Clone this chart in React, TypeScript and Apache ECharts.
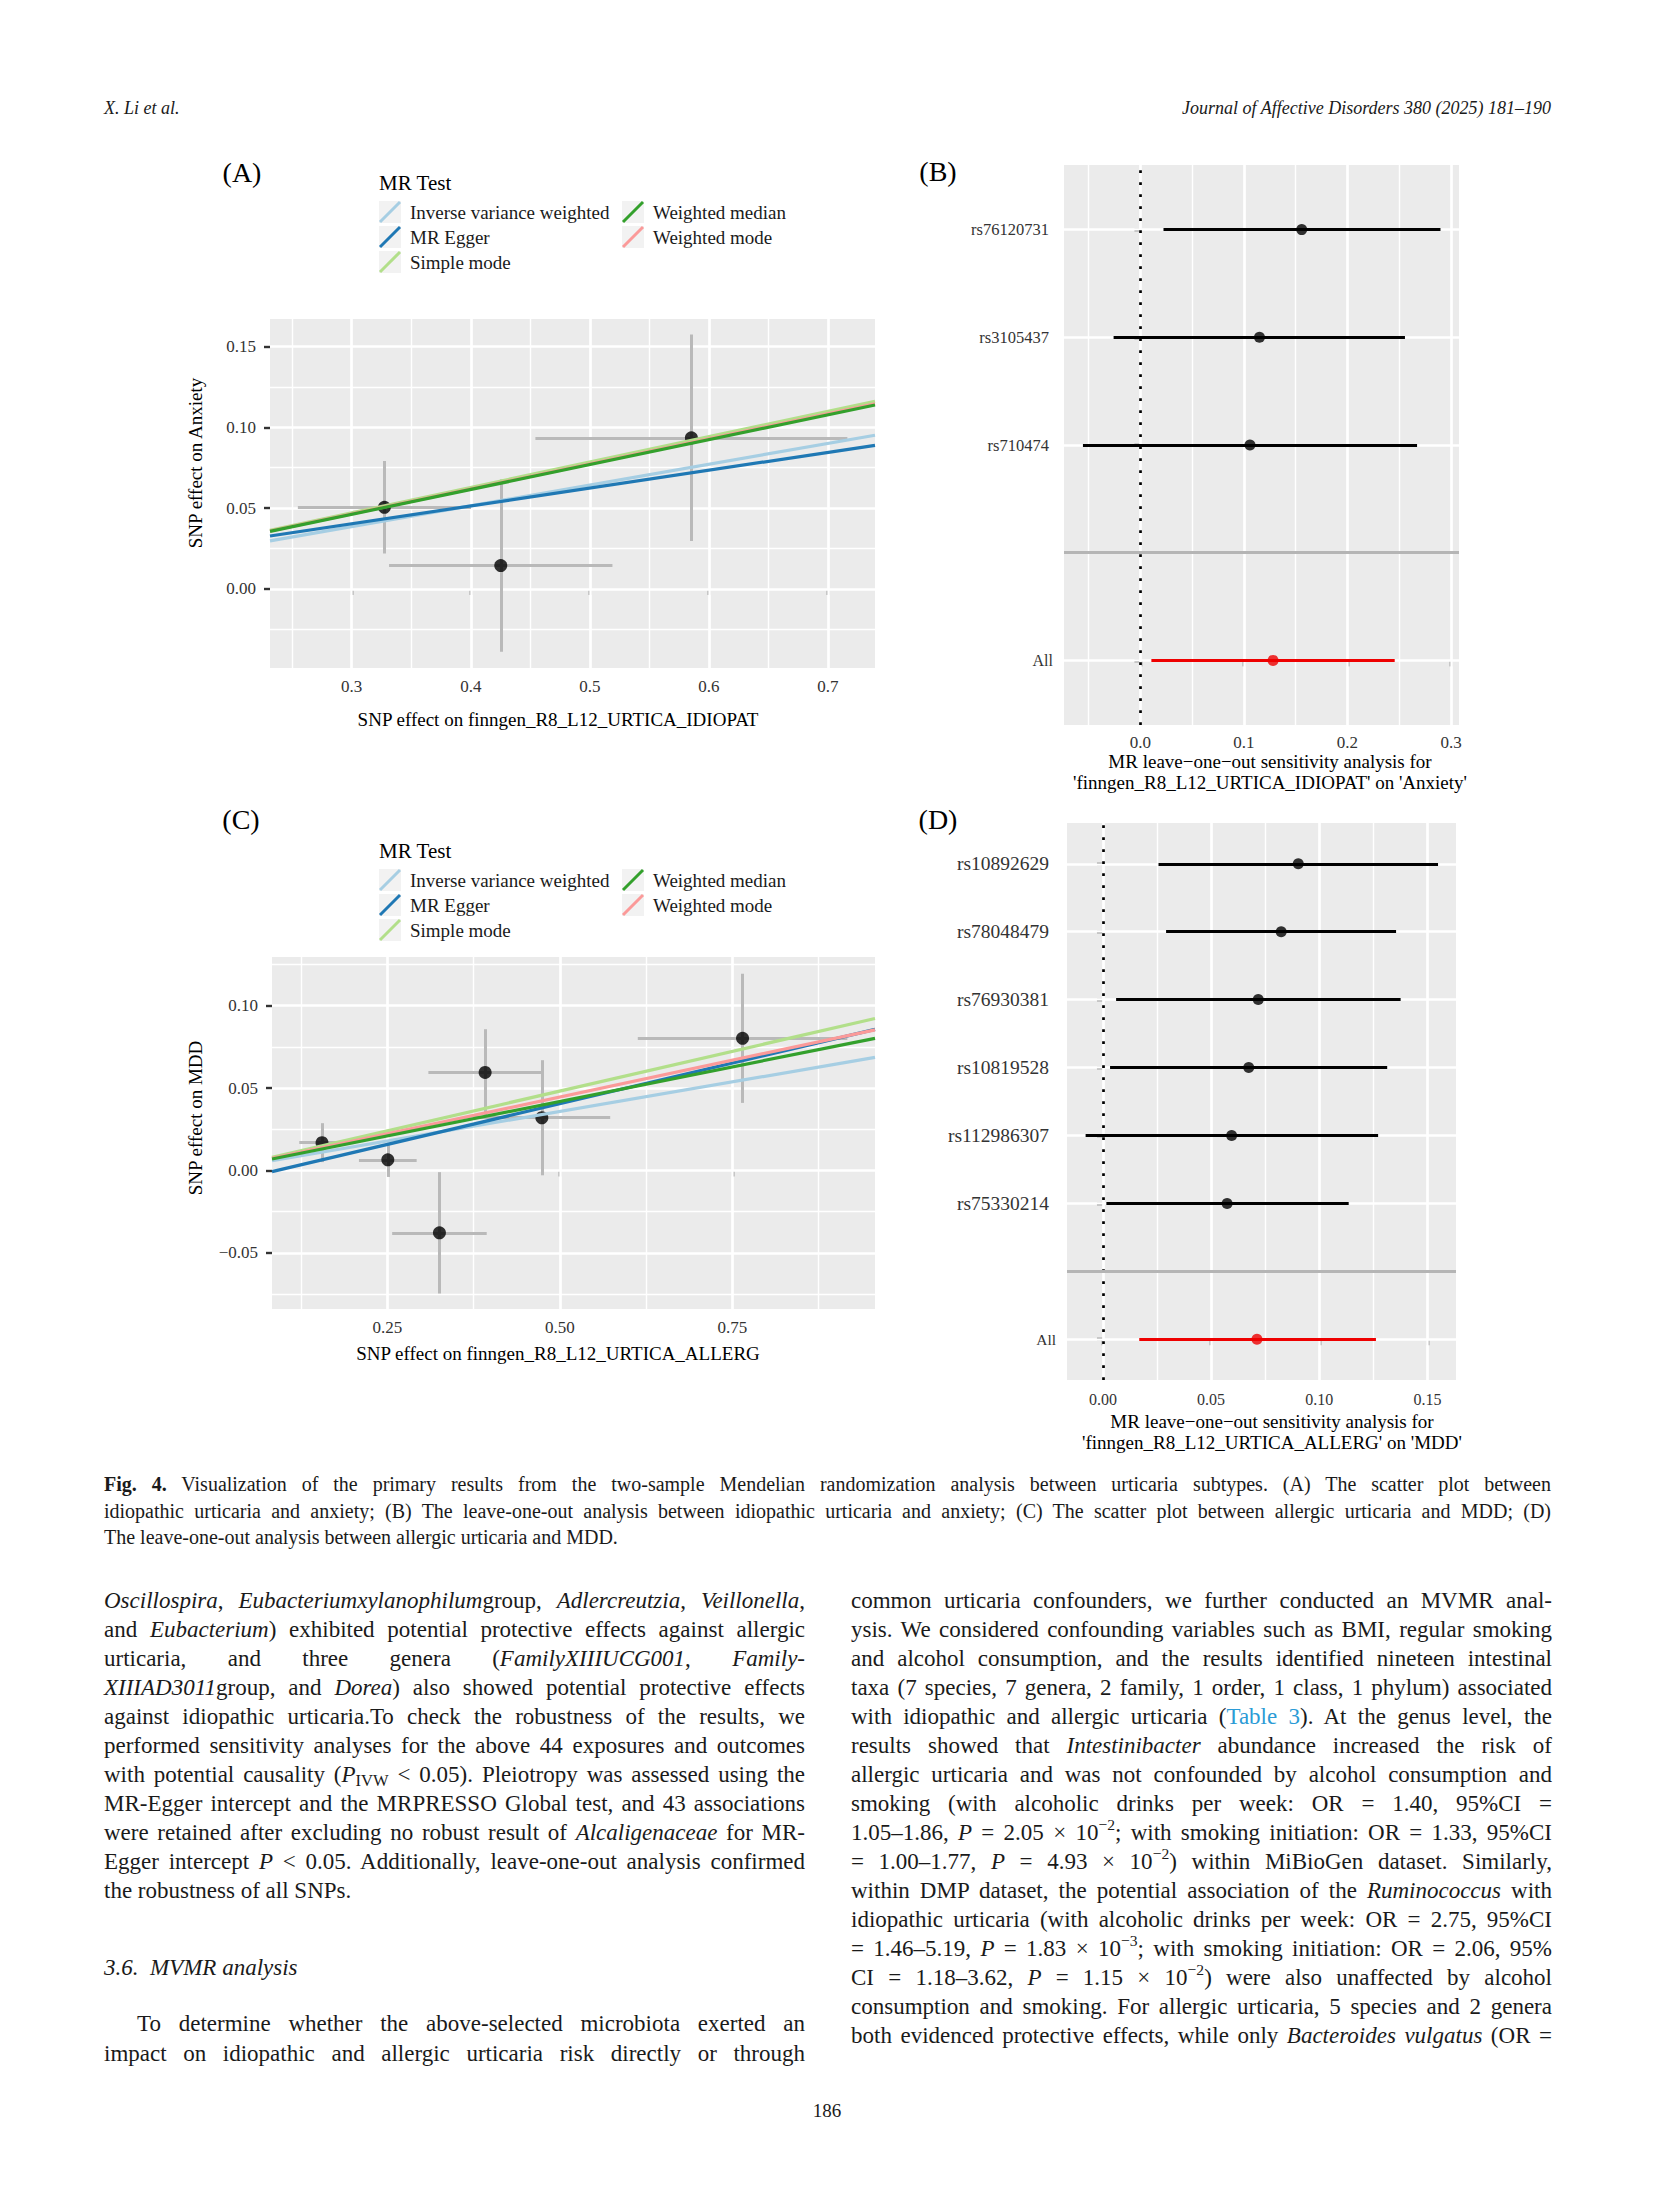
import React, { useEffect, useRef } from "react";
import * as echarts from "echarts";

const SERIF = "'Liberation Serif', 'Times New Roman', Times, serif";
const AXIS_TXT = "#333333";
const GRID_BG = "#EBEBEB";
const ERR_GREY = "#b9b9b9";

// MR methods (legend order)
const methodNames = ["Inverse variance weighted", "MR Egger", "Simple mode", "Weighted median", "Weighted mode"];
const methodColors = ["#a6cee3", "#1f78b4", "#b2df8a", "#33a02c", "#fb9a99"];
const drawOrder = [0, 1, 2, 4, 3];

// ---------- Panel A: scatter, URTICA_IDIOPAT -> Anxiety ----------
const aBetaExp = [0.3275, 0.4252, 0.5853];
const aSeExp = [0.0727, 0.0938, 0.131];
const aBetaOut = [0.0505, 0.0145, 0.0935];
const aSeOut = [0.0286, 0.0534, 0.0639];
const aSlopes = [0.1286, 0.1104, 0.157, 0.1539, 0.1548];
const aIntercepts = [0, 0.0072, 0, 0, 0];
const aRangeX = [0.2314, 0.7395];
const aRangeY = [-0.0489, 0.167];
const aTickX = [0.3, 0.4, 0.5, 0.6, 0.7];
const aTickY = [0, 0.05, 0.1, 0.15];
const aMinorX = [0.25, 0.35, 0.45, 0.55, 0.65];
const aMinorY = [-0.025, 0.025, 0.075, 0.125];

// ---------- Panel C: scatter, URTICA_ALLERG -> MDD ----------
const cBetaExp = [0.1554, 0.2507, 0.3255, 0.3917, 0.4739, 0.7647];
const cSeExp = [0.033, 0.0418, 0.0685, 0.0822, 0.099, 0.1518];
const cBetaOut = [0.0169, 0.0065, -0.0378, 0.0595, 0.032, 0.0802];
const cSeOut = [0.0118, 0.0104, 0.0368, 0.0262, 0.0349, 0.0392];
const cSlopes = [0.0717, 0.0988, 0.0964, 0.0838, 0.0892];
const cIntercepts = [0, -0.0089, 0, 0, 0];
const cRangeX = [0.0829, 0.9566];
const cRangeY = [-0.084, 0.1295];
const cTickX = [0.25, 0.5, 0.75];
const cTickY = [-0.05, 0, 0.05, 0.1];
const cMinorX = [0.125, 0.375, 0.625, 0.875];
const cMinorY = [-0.075, -0.025, 0.025, 0.075, 0.125];

// ---------- Panel B: leave-one-out, IDIOPAT -> Anxiety ----------
const bSnps = ["All", "", "rs710474", "rs3105437", "rs76120731"];
const bBeta = [0.1281, null, 0.1058, 0.115, 0.1558];
const bLow = [0.0106, null, -0.0555, -0.0259, 0.0223];
const bHigh = [0.2456, null, 0.2672, 0.2555, 0.2898];
const bRangeX = [-0.0738, 0.3077];
const bTickX = [0, 0.1, 0.2, 0.3];
const bMinorX = [-0.05, 0.05, 0.15, 0.25];

// ---------- Panel D: leave-one-out, ALLERG -> MDD ----------
const dSnps = ["All", "", "rs75330214", "rs112986307", "rs10819528", "rs76930381", "rs78048479", "rs10892629"];
const dBeta = [0.0712, null, 0.0574, 0.0595, 0.0674, 0.0718, 0.0824, 0.0903];
const dLow = [0.0168, null, 0.0016, -0.008, 0.0033, 0.0061, 0.0292, 0.0257];
const dHigh = [0.1262, null, 0.1136, 0.1272, 0.1314, 0.1376, 0.1355, 0.1549];
const dRangeX = [-0.0166, 0.1632];
const dTickX = [0, 0.05, 0.1, 0.15];
const dMinorX = [0.025, 0.075, 0.125];

const fmtDec = (dec: number) => (v: number) => {
  const s = Math.abs(v).toFixed(dec);
  return (v < -1e-9 ? "\u2212" : "") + s;
};

function whiteGrid(gi: number, xr: number[], yr: number[], xMaj: number[], xMin: number[], yMaj: number[], yMin: number[]) {
  const data: any[] = [];
  const seg = (coords: number[][], w: number) => ({ coords, lineStyle: { width: w, color: "#ffffff", opacity: 1 } });
  xMin.forEach((v) => data.push(seg([[v, yr[0]], [v, yr[1]]], 1.4)));
  yMin.forEach((v) => data.push(seg([[xr[0], v], [xr[1], v]], 1.4)));
  xMaj.forEach((v) => data.push(seg([[v, yr[0]], [v, yr[1]]], 2.7)));
  yMaj.forEach((v) => data.push(seg([[xr[0], v], [xr[1], v]], 2.7)));
  return {
    type: "lines",
    coordinateSystem: "cartesian2d",
    xAxisIndex: gi,
    yAxisIndex: gi,
    silent: true,
    z: 1,
    lineStyle: { color: "#ffffff", opacity: 1, curveness: 0 },
    data,
  };
}

function xAxisCfg(gi: number, xr: number[], ticks: number[], dec: number, fontSize: number, margin: number) {
  return {
    gridIndex: gi,
    type: "value",
    min: xr[0],
    max: xr[1],
    axisLine: { show: false },
    splitLine: { show: false },
    axisTick: { show: true, customValues: ticks, length: 6, lineStyle: { color: "#333333", width: 2.4 } },
    axisLabel: { show: true, customValues: ticks, formatter: fmtDec(dec), margin, fontFamily: SERIF, fontSize, color: AXIS_TXT },
  };
}

function scatterPanel(
  gi: number,
  xr: number[],
  yr: number[],
  bx: number[],
  sx: number[],
  by: number[],
  sy: number[],
  slopes: number[],
  ints: number[],
  xMaj: number[],
  xMin: number[],
  yMaj: number[],
  yMin: number[]
) {
  const series: any[] = [];
  series.push(whiteGrid(gi, xr, yr, xMaj, xMin, yMaj, yMin));
  const err: any[] = [];
  bx.forEach((x, i) => {
    err.push({ coords: [[x - sx[i], by[i]], [x + sx[i], by[i]]] });
    err.push({ coords: [[x, by[i] - sy[i]], [x, by[i] + sy[i]]] });
  });
  series.push({
    type: "lines",
    coordinateSystem: "cartesian2d",
    xAxisIndex: gi,
    yAxisIndex: gi,
    silent: true,
    z: 2,
    lineStyle: { color: ERR_GREY, width: 3, opacity: 1, curveness: 0 },
    data: err,
  });
  series.push({
    type: "scatter",
    xAxisIndex: gi,
    yAxisIndex: gi,
    z: 3,
    symbol: "circle",
    symbolSize: 13,
    itemStyle: { color: "#000000" },
    data: bx.map((x, i) => [x, by[i]]),
  });
  drawOrder.forEach((m) => {
    const b = slopes[m];
    series.push({
      type: "line",
      name: methodNames[m],
      xAxisIndex: gi,
      yAxisIndex: gi,
      z: 4,
      showSymbol: false,
      symbol: "none",
      lineStyle: { color: methodColors[m], width: 3.2 },
      data: [
        [xr[0], ints[m] + b * xr[0]],
        [xr[1], ints[m] + b * xr[1]],
      ],
    });
  });
  return series;
}

function forestPanel(gi: number, xr: number[], snps: string[], beta: (number | null)[], lo: (number | null)[], hi: (number | null)[], xMaj: number[], xMin: number[]) {
  const yr = [-0.6, snps.length - 1 + 0.6];
  const rows = snps.map((_, i) => i);
  const series: any[] = [];
  series.push(whiteGrid(gi, xr, yr, xMaj, xMin, rows, []));
  series.push({
    type: "lines",
    coordinateSystem: "cartesian2d",
    xAxisIndex: gi,
    yAxisIndex: gi,
    silent: true,
    z: 2,
    lineStyle: { color: "#000000", width: 2.7, opacity: 1, type: [2.7, 9.3], cap: "butt" },
    data: [{ coords: [[0, yr[0]], [0, yr[1]]] }],
  });
  const bars: any[] = [];
  const pts: any[] = [];
  snps.forEach((s, i) => {
    if (beta[i] === null) return;
    const col = s === "All" ? "#ee0000" : "#000000";
    bars.push({ coords: [[lo[i], i], [hi[i], i]], lineStyle: { color: col, width: 2.8, opacity: 1 } });
    pts.push({ value: [beta[i], i], itemStyle: { color: col } });
  });
  series.push({
    type: "lines",
    coordinateSystem: "cartesian2d",
    xAxisIndex: gi,
    yAxisIndex: gi,
    silent: true,
    z: 3,
    lineStyle: { width: 2.8, opacity: 1, curveness: 0 },
    data: bars,
  });
  series.push({
    type: "scatter",
    xAxisIndex: gi,
    yAxisIndex: gi,
    z: 4,
    symbolSize: 11,
    data: pts,
  });
  const gap = snps.indexOf("");
  series.push({
    type: "lines",
    coordinateSystem: "cartesian2d",
    xAxisIndex: gi,
    yAxisIndex: gi,
    silent: true,
    z: 5,
    lineStyle: { color: "#b5b5b5", width: 2.8, opacity: 1, curveness: 0 },
    data: [{ coords: [[xr[0], gap], [xr[1], gap]] }],
  });
  return series;
}

function forestYAxis(gi: number, snps: string[], rsSize: number, allSize: number, rsPad: number) {
  const ticks = snps.map((s, i) => (s === "" ? -1 : i)).filter((i) => i >= 0);
  return {
    gridIndex: gi,
    type: "value",
    min: -0.6,
    max: snps.length - 1 + 0.6,
    axisLine: { show: false },
    splitLine: { show: false },
    axisTick: { show: true, customValues: ticks, length: 6, lineStyle: { color: "#333333", width: 2.4 } },
    axisLabel: {
      show: true,
      customValues: ticks,
      margin: 11,
      formatter: (v: number) => {
        const s = snps[Math.round(v)] || "";
        return s === "All" ? "{all|All}" : "{rs|" + s + "}";
      },
      rich: {
        all: { fontFamily: SERIF, fontSize: allSize, color: AXIS_TXT },
        rs: { fontFamily: SERIF, fontSize: rsSize, color: AXIS_TXT, padding: [0, rsPad, 0, 0] },
      },
    },
  };
}

function legendGraphics(x0: number, yTitle: number, rows: number[]) {
  const els: any[] = [];
  els.push({
    type: "text",
    x: x0,
    y: yTitle,
    style: { text: "MR Test", fontFamily: SERIF, fontSize: 21, fill: "#000", align: "left", verticalAlign: "middle" },
  });
  const colX = [x0, x0 + 243];
  const placement = [
    [0, 0],
    [0, 1],
    [0, 2],
    [1, 0],
    [1, 1],
  ];
  placement.forEach(([c, r], m) => {
    const kx = colX[c];
    const ry = rows[r];
    els.push({ type: "rect", shape: { x: kx, y: ry - 11, width: 22, height: 22 }, style: { fill: "#f2f2f2" } });
    els.push({
      type: "line",
      shape: { x1: kx + 1, y1: ry + 10, x2: kx + 21, y2: ry - 10 },
      style: { stroke: methodColors[m], lineWidth: 3 },
    });
    els.push({
      type: "text",
      x: kx + 31,
      y: ry,
      style: { text: methodNames[m], fontFamily: SERIF, fontSize: 19, fill: "#1a1a1a", align: "left", verticalAlign: "middle" },
    });
  });
  return els;
}

function txt(text: string, x: number, y: number, size: number, opts: any = {}) {
  return {
    type: "text",
    x,
    y,
    rotation: opts.rotation || 0,
    style: {
      text,
      fontFamily: SERIF,
      fontSize: size,
      fill: opts.fill || "#000",
      align: opts.align || "center",
      verticalAlign: "middle",
      lineHeight: opts.lineHeight,
    },
  };
}

function buildOption() {
  const grids = [
    { left: 270, top: 319, width: 605, height: 349 },
    { left: 1064, top: 165, width: 395, height: 560 },
    { left: 272, top: 957, width: 603, height: 352 },
    { left: 1067, top: 823, width: 389, height: 557 },
  ].map((g) => ({ ...g, show: true, backgroundColor: GRID_BG, borderWidth: 0, containLabel: false }));

  const xAxis = [
    xAxisCfg(0, aRangeX, aTickX, 1, 17, 10),
    xAxisCfg(1, bRangeX, bTickX, 1, 17, 9),
    xAxisCfg(2, cRangeX, cTickX, 2, 17, 10),
    xAxisCfg(3, dRangeX, dTickX, 2, 16, 11),
  ];
  const scatterY = (gi: number, yr: number[], ticks: number[]) => ({
    gridIndex: gi,
    type: "value",
    min: yr[0],
    max: yr[1],
    axisLine: { show: false },
    splitLine: { show: false },
    axisTick: { show: true, customValues: ticks, length: 6, lineStyle: { color: "#333333", width: 2.4 } },
    axisLabel: { show: true, customValues: ticks, formatter: fmtDec(2), margin: 14, fontFamily: SERIF, fontSize: 17, color: AXIS_TXT },
  });
  const yAxis = [
    scatterY(0, aRangeY, aTickY),
    forestYAxis(1, bSnps, 16.5, 16, 4),
    scatterY(2, cRangeY, cTickY),
    forestYAxis(3, dSnps, 19.5, 15.5, 7),
  ];

  const series = [
    ...scatterPanel(0, aRangeX, aRangeY, aBetaExp, aSeExp, aBetaOut, aSeOut, aSlopes, aIntercepts, aTickX, aMinorX, aTickY, aMinorY),
    ...forestPanel(1, bRangeX, bSnps, bBeta, bLow, bHigh, bTickX, bMinorX),
    ...scatterPanel(2, cRangeX, cRangeY, cBetaExp, cSeExp, cBetaOut, cSeOut, cSlopes, cIntercepts, cTickX, cMinorX, cTickY, cMinorY),
    ...forestPanel(3, dRangeX, dSnps, dBeta, dLow, dHigh, dTickX, dMinorX),
  ];

  const graphics: any[] = [
    txt("(A)", 242, 172, 28),
    txt("(B)", 938, 171, 28),
    txt("(C)", 241, 819, 28),
    txt("(D)", 938, 819, 28),
    ...legendGraphics(379, 183, [212, 237, 262]),
    ...legendGraphics(379, 851, [880, 905, 930]),
    txt("SNP effect on Anxiety", 195, 463, 19, { rotation: Math.PI / 2 }),
    txt("SNP effect on finngen_R8_L12_URTICA_IDIOPAT", 558, 719, 19),
    txt("SNP effect on MDD", 195, 1118, 19, { rotation: Math.PI / 2 }),
    txt("SNP effect on finngen_R8_L12_URTICA_ALLERG", 558, 1353, 19),
    txt("MR leave\u2212one\u2212out sensitivity analysis for\n'finngen_R8_L12_URTICA_IDIOPAT' on 'Anxiety'", 1270, 772, 19, { lineHeight: 21 }),
    txt("MR leave\u2212one\u2212out sensitivity analysis for\n'finngen_R8_L12_URTICA_ALLERG' on 'MDD'", 1272, 1432, 19, { lineHeight: 21 }),
  ];

  return {
    animation: false,
    backgroundColor: "transparent",
    grid: grids,
    xAxis,
    yAxis,
    series,
    graphic: { elements: graphics },
  };
}

const BODY_FONT = "'Liberation Serif', 'Times New Roman', Times, serif";
const INK = "#1a1a1a";

function TLine(props: { x: number; w: number; y: number; last?: boolean; size?: number; lh?: number; indent?: number; children: any }) {
  const lh = props.lh || 29;
  const align = props.last ? "left" : "justify";
  return (
    <div
      style={{
        position: "absolute",
        left: props.x,
        top: props.y - lh / 2,
        width: props.w,
        height: lh,
        fontFamily: BODY_FONT,
        fontSize: props.size || 23,
        lineHeight: lh + "px",
        color: INK,
        textAlign: align as any,
        textAlignLast: align as any,
        textIndent: props.indent || 0,
        whiteSpace: "normal",
      }}
    >
      {props.children}
    </div>
  );
}

const Sup = (p: { children: any }) => (
  <span style={{ fontSize: "0.68em", verticalAlign: "0.62em", lineHeight: 0 }}>{p.children}</span>
);
const Sub = (p: { children: any }) => (
  <span style={{ fontSize: "0.72em", verticalAlign: "-0.25em", lineHeight: 0 }}>{p.children}</span>
);

const LX = 104;
const LW = 701;
const RX = 851;
const RW = 701;
const Y0 = 1600;
const DY = 29;

export default function App() {
  const ref = useRef<HTMLDivElement>(null);
  useEffect(() => {
    if (!ref.current) return;
    const chart = echarts.init(ref.current, undefined, { renderer: "svg" });
    chart.setOption(buildOption() as any);
    return () => chart.dispose();
  }, []);

  const leftLines = [
    <><i>Oscillospira</i>, <i>Eubacteriumxylanophilum</i>group, <i>Adlercreutzia</i>, <i>Veillonella</i>,</>,
    <>and <i>Eubacterium</i>) exhibited potential protective effects against allergic</>,
    <>urticaria, and three genera (<i>FamilyXIIIUCG001</i>, <i>Family-</i></>,
    <><i>XIIIAD3011</i>group, and <i>Dorea</i>) also showed potential protective effects</>,
    <>against idiopathic urticaria.To check the robustness of the results, we</>,
    <>performed sensitivity analyses for the above 44 exposures and outcomes</>,
    <>with potential causality (<i>P</i><Sub>IVW</Sub> &lt; 0.05). Pleiotropy was assessed using the</>,
    <>MR-Egger intercept and the MRPRESSO Global test, and 43 associations</>,
    <>were retained after excluding no robust result of <i>Alcaligenaceae</i> for MR-</>,
    <>Egger intercept <i>P</i> &lt; 0.05. Additionally, leave-one-out analysis confirmed</>,
    <>the robustness of all SNPs.</>,
  ];

  const rightLines = [
    <>common urticaria confounders, we further conducted an MVMR anal-</>,
    <>ysis. We considered confounding variables such as BMI, regular smoking</>,
    <>and alcohol consumption, and the results identified nineteen intestinal</>,
    <>taxa (7 species, 7 genera, 2 family, 1 order, 1 class, 1 phylum) associated</>,
    <>with idiopathic and allergic urticaria (<span style={{ color: "#2b9bd6" }}>Table 3</span>). At the genus level, the</>,
    <>results showed that <i>Intestinibacter</i> abundance increased the risk of</>,
    <>allergic urticaria and was not confounded by alcohol consumption and</>,
    <>smoking (with alcoholic drinks per week: OR = 1.40, 95%CI =</>,
    <>1.05–1.86, <i>P</i> = 2.05 × 10<Sup>−2</Sup>; with smoking initiation: OR = 1.33, 95%CI</>,
    <>= 1.00–1.77, <i>P</i> = 4.93 × 10<Sup>−2</Sup>) within MiBioGen dataset. Similarly,</>,
    <>within DMP dataset, the potential association of the <i>Ruminococcus</i> with</>,
    <>idiopathic urticaria (with alcoholic drinks per week: OR = 2.75, 95%CI</>,
    <>= 1.46–5.19, <i>P</i> = 1.83 × 10<Sup>−3</Sup>; with smoking initiation: OR = 2.06, 95%</>,
    <>CI = 1.18–3.62, <i>P</i> = 1.15 × 10<Sup>−2</Sup>) were also unaffected by alcohol</>,
    <>consumption and smoking. For allergic urticaria, 5 species and 2 genera</>,
    <>both evidenced protective effects, while only <i>Bacteroides vulgatus</i> (OR =</>,
  ];

  const captionLines = [
    <><b>Fig. 4.</b> Visualization of the primary results from the two-sample Mendelian randomization analysis between urticaria subtypes. (A) The scatter plot between</>,
    <>idiopathic urticaria and anxiety; (B) The leave-one-out analysis between idiopathic urticaria and anxiety; (C) The scatter plot between allergic urticaria and MDD; (D)</>,
    <>The leave-one-out analysis between allergic urticaria and MDD.</>,
  ];
  const captionY = [1484, 1511, 1537];

  return (
    <div style={{ position: "absolute", left: 0, top: 0, width: 1654, height: 2205, background: "#ffffff", overflow: "hidden" }}>
      <div ref={ref} style={{ position: "absolute", left: 0, top: 0, width: 1654, height: 2205 }} />
      <div style={{ position: "absolute", left: 104, top: 97, fontFamily: BODY_FONT, fontStyle: "italic", fontSize: 18, color: INK, lineHeight: "22px" }}>
        X. Li et al.
      </div>
      <div style={{ position: "absolute", right: 1654 - 1551, top: 97, fontFamily: BODY_FONT, fontStyle: "italic", fontSize: 18, color: INK, lineHeight: "22px", whiteSpace: "nowrap" }}>
        Journal of Affective Disorders 380 (2025) 181–190
      </div>
      {captionLines.map((c, i) => (
        <TLine key={"c" + i} x={104} w={1447} y={captionY[i]} size={20} lh={27} last={i === captionLines.length - 1}>
          {c}
        </TLine>
      ))}
      {leftLines.map((c, i) => (
        <TLine key={"l" + i} x={LX} w={LW} y={Y0 + i * DY} last={i === leftLines.length - 1}>
          {c}
        </TLine>
      ))}
      <TLine x={LX} w={LW} y={1967} last>
        <i>3.6.&nbsp;&nbsp;MVMR analysis</i>
      </TLine>
      <TLine x={LX} w={LW} y={2023} indent={33}>
        To determine whether the above-selected microbiota exerted an
      </TLine>
      <TLine x={LX} w={LW} y={2053}>
        impact on idiopathic and allergic urticaria risk directly or through
      </TLine>
      {rightLines.map((c, i) => (
        <TLine key={"r" + i} x={RX} w={RW} y={Y0 + i * DY}>
          {c}
        </TLine>
      ))}
      <div style={{ position: "absolute", left: 0, width: 1654, top: 2099, textAlign: "center", fontFamily: BODY_FONT, fontSize: 19, color: INK, lineHeight: "24px" }}>
        186
      </div>
    </div>
  );
}
